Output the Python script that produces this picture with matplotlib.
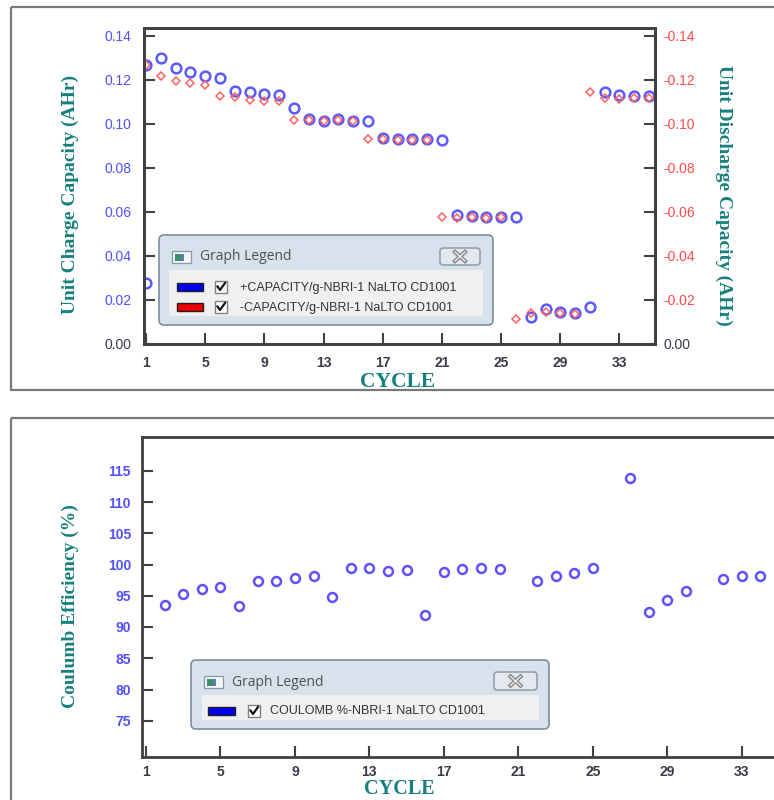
import matplotlib
matplotlib.use("Agg")
import matplotlib.pyplot as plt
from matplotlib.patches import FancyBboxPatch, Rectangle

# ---- data -------------------------------------------------------------
charge_cycles = [1, 1, 2, 3, 4, 5, 6, 7, 8, 9, 10, 11, 12, 13, 14, 15, 16, 17, 18,
                 19, 20, 21, 22, 23, 24, 25, 26, 27, 28, 29, 30, 31, 32, 33, 34, 35]
charge_cap = [0.0278, 0.1268, 0.1299, 0.1256, 0.1235, 0.1218, 0.1208, 0.1150,
              0.1145, 0.1135, 0.1130, 0.1074, 0.1021, 0.1015, 0.1023, 0.1015,
              0.1012, 0.0938, 0.0930, 0.0930, 0.0930, 0.0927, 0.0586, 0.0580,
              0.0576, 0.0577, 0.0577, 0.0124, 0.0158, 0.0147, 0.0142, 0.0167,
              0.1147, 0.1132, 0.1127, 0.1129]

discharge_cycles = list(range(1, 36))
discharge_cap = [-0.1268, -0.1220, -0.1197, -0.1185, -0.1176, -0.1127, -0.1121,
                 -0.1110, -0.1106, -0.1106, -0.1017, -0.1018, -0.1013, -0.1020,
                 -0.1013, -0.0932, -0.0932, -0.0929, -0.0929, -0.0929, -0.0576,
                 -0.0572, -0.0577, -0.0574, -0.0575, -0.0112, -0.0140, -0.0147,
                 -0.0140, -0.0137, -0.1144, -0.1117, -0.1115, -0.1117, -0.1117]

ce_cycles = [2, 3, 4, 5, 6, 7, 8, 9, 10, 11, 12, 13, 14, 15, 16, 17, 18, 19, 20,
             22, 23, 24, 25, 27, 28, 29, 30, 32, 33, 34]
ce_values = [93.56, 95.32, 96.01, 96.39, 93.40, 97.29, 97.29, 97.88, 98.10, 94.73,
             99.37, 99.37, 99.00, 99.16, 91.96, 98.84, 99.21, 99.37, 99.21, 97.29,
             98.10, 98.63, 99.37, 113.77, 92.44, 94.31, 95.80, 97.67, 98.15, 98.15]

cycle_ticks = [1, 5, 9, 13, 17, 21, 25, 29, 33]
charge_ticks = [0.00, 0.02, 0.04, 0.06, 0.08, 0.10, 0.12, 0.14]
discharge_ticks = [0.0, -0.02, -0.04, -0.06, -0.08, -0.10, -0.12, -0.14]
ce_ticks = [75, 80, 85, 90, 95, 100, 105, 110, 115]

charge_legend = "+CAPACITY/g-NBRI-1 NaLTO CD1001"
discharge_legend = "-CAPACITY/g-NBRI-1 NaLTO CD1001"
ce_legend = "COULOMB %-NBRI-1 NaLTO CD1001"

# ---- styling ----------------------------------------------------------
W, H = 774, 800
TEAL = "#16807e"
BLUE_TICK = "#4f4fff"
RED_TICK = "#ff4848"
DARK = "#3a3a4a"
SPINE = "#404040"
SANS = ["Liberation Sans", "DejaVu Sans"]
SERIF = ["Liberation Serif", "DejaVu Serif"]

plt.rcParams["font.family"] = SANS

fig = plt.figure(figsize=(W / 100, H / 100), dpi=100)
fig.patch.set_facecolor("white")


def box(x0, y0, x1, y1):
    """Axes rectangle from pixel edges measured from the top-left corner."""
    return [x0 / W, 1 - y1 / H, (x1 - x0) / W, (y1 - y0) / H]


def style_spines(ax):
    for s in ax.spines.values():
        s.set_color(SPINE)
        s.set_linewidth(2)


# ---- capacity panel ---------------------------------------------------
ax1 = fig.add_axes(box(144, 28, 655, 344))
ax1.set_xlim(0.86, 35.4)
ax1.set_ylim(0, 0.1436)
ax1.plot(charge_cycles, charge_cap, linestyle="none", marker="o", markersize=7,
         markerfacecolor="none", markeredgecolor="#5a5aff", markeredgewidth=1.8)
ax1.set_xticks(cycle_ticks)
ax1.set_xticklabels([str(c) for c in cycle_ticks], fontsize=10, color=DARK,
                    fontweight="bold")
ax1.set_yticks(charge_ticks)
ax1.set_yticklabels([f"{v:.2f}" for v in charge_ticks], fontsize=10,
                    color=BLUE_TICK)
ax1.get_yticklabels()[0].set_color(DARK)
ax1.tick_params(axis="both", direction="in", length=8, width=1.5, color=SPINE)
ax1.tick_params(axis="y", pad=9, right=False)
ax1.tick_params(axis="x", pad=9, top=False)
style_spines(ax1)

ax2 = ax1.twinx()
ax2.set_ylim(0, -0.1436)
ax2.plot(discharge_cycles, discharge_cap, linestyle="none", marker="D",
         markersize=4.4, markerfacecolor="none", markeredgecolor="#ff6262",
         markeredgewidth=1.1)
ax2.set_yticks(discharge_ticks)
ax2.set_yticklabels([f"{v:.2f}" for v in discharge_ticks], fontsize=10,
                    color=RED_TICK)
ax2.get_yticklabels()[0].set_color(DARK)
ax2.tick_params(axis="y", direction="in", length=8, width=1.5, color=SPINE,
                pad=6)
style_spines(ax2)

# ---- coulombic efficiency panel --------------------------------------
ax3 = fig.add_axes(box(142, 437, 820, 757))
ax3.set_xlim(0.79, 37.2)
ax3.set_ylim(69.2, 120.4)
ax3.plot(ce_cycles, ce_values, linestyle="none", marker="o", markersize=6.4,
         markerfacecolor="none", markeredgecolor="#6050ff", markeredgewidth=1.8)
ax3.set_xticks(cycle_ticks)
ax3.set_xticklabels([str(c) for c in cycle_ticks], fontsize=10, color=DARK,
                    fontweight="bold")
ax3.set_yticks(ce_ticks)
ax3.set_yticklabels([str(v) for v in ce_ticks], fontsize=10, color=BLUE_TICK,
                    fontweight="bold")
ax3.tick_params(axis="both", direction="in", length=8, width=1.5, color=SPINE)
ax3.tick_params(axis="y", pad=8, right=False)
ax3.tick_params(axis="x", pad=6, top=False)
style_spines(ax3)

# ---- axis titles ------------------------------------------------------
label_kw = dict(family=SERIF, fontweight="bold", color=TEAL, ha="center",
                va="center")
fig.text(70 / W, 1 - 194 / H, "Unit Charge Capacity (AHr)", rotation=90,
         fontsize=14, **label_kw)
fig.text(724 / W, 1 - 195 / H, "Unit Discharge Capacity (AHr)", rotation=270,
         fontsize=14, **label_kw)
fig.text(398 / W, 1 - 382 / H, "CYCLE", fontsize=15.5, **label_kw)
fig.text(70 / W, 1 - 606 / H, "Coulumb Efficiency (%)", rotation=90,
         fontsize=14, **label_kw)
fig.text(399 / W, 1 - 789 / H, "CYCLE", fontsize=14.5, **label_kw)

# ---- overlay in pixel coordinates: panel frames and legend windows ---
ov = fig.add_axes([0, 0, 1, 1], zorder=20)
ov.set_xlim(0, W)
ov.set_ylim(H, 0)
ov.axis("off")
ov.patch.set_alpha(0)

# panel frames
ov.add_patch(Rectangle((11, 7), 800, 383, fc="none", ec="#7a7a7a", lw=1.6))
ov.add_patch(Rectangle((11, 418), 800, 420, fc="none", ec="#7a7a7a", lw=1.6))


def legend_window(x0, y0, x1, y1, title_y, icon_x, close_box, inner, rows):
    ov.add_patch(FancyBboxPatch((x0, y0), x1 - x0, y1 - y0,
                                boxstyle="round,pad=0,rounding_size=5",
                                fc="#d8e2ed", ec="#7f8d9c", lw=1.2))
    # window icon
    ov.add_patch(Rectangle((icon_x, title_y - 6), 19, 12, fc="#f3f5f7",
                           ec="#8a98a8", lw=0.9))
    ov.add_patch(Rectangle((icon_x + 3, title_y - 3), 6, 7, fc="#3d8f6a",
                           ec="none"))
    ov.add_patch(Rectangle((icon_x + 9, title_y - 3), 3, 7, fc="#5a7fb0",
                           ec="none"))
    ov.text(icon_x + 28, title_y, "Graph Legend", fontsize=10,
            family=["Open Sans", "DejaVu Sans"], color="#505050",
            ha="left", va="center")
    # close button
    cx0, cy0, cx1, cy1 = close_box
    ov.add_patch(FancyBboxPatch((cx0, cy0), cx1 - cx0, cy1 - cy0,
                                boxstyle="round,pad=0,rounding_size=3",
                                fc="#e3e9ef", ec="#8794a2", lw=1))
    mx, my = (cx0 + cx1) / 2, (cy0 + cy1) / 2
    for lw, col in ((3.0, "#8a8a8a"), (0.9, "#f4f4f4")):
        ov.plot([mx - 5, mx + 5], [my - 4.5, my + 4.5], color=col, lw=lw,
                solid_capstyle="projecting")
        ov.plot([mx - 5, mx + 5], [my + 4.5, my - 4.5], color=col, lw=lw,
                solid_capstyle="projecting")
    # inner list panel
    ix0, iy0, ix1, iy1 = inner
    ov.add_patch(Rectangle((ix0, iy0), ix1 - ix0, iy1 - iy0, fc="#f0f0f0",
                           ec="none"))
    for color, text, ry, sx0, sx1, bx, tx in rows:
        ov.add_patch(Rectangle((sx0, ry - 4), sx1 - sx0, 8, fc=color,
                               ec="#202020", lw=1))
        ov.add_patch(Rectangle((bx, ry - 6), 12, 12, fc="white", ec="#808080",
                               lw=1))
        ov.plot([bx + 2.5, bx + 5, bx + 10], [ry - 0.5, ry + 3, ry - 4],
                color="#151515", lw=1.6)
        ov.text(tx, ry + 0.5, text, fontsize=9, family=SANS, color="#333333",
                ha="left", va="center")


legend_window(159, 235, 493, 325, 257, 172, (440, 248, 480, 265),
              (169, 270, 483, 316),
              [("#0000ee", charge_legend, 287, 177, 203, 215, 240),
               ("#ee0000", discharge_legend, 307, 177, 203, 215, 240)])

legend_window(191, 660, 549, 729, 682, 204, (494, 672, 537, 690),
              (202, 695, 539, 720),
              [("#0000ee", ce_legend, 711, 208, 235, 248, 270)])

fig.savefig("out.png", dpi=100)
